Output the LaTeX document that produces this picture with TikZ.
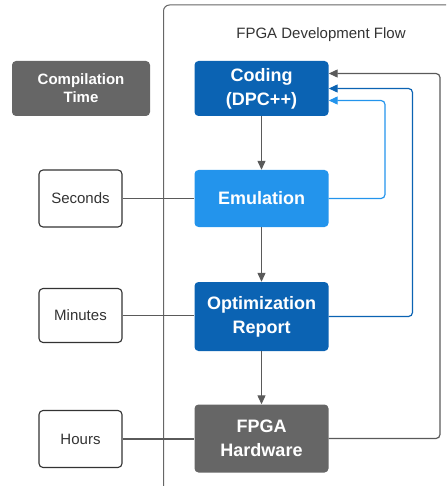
\documentclass[tikz,border=0pt]{standalone}
\usepackage{fontspec}
\setmainfont{Liberation Sans}
\usetikzlibrary{arrows.meta,calc}
\definecolor{darkblue}{HTML}{0B63B3}
\definecolor{lightblue}{HTML}{2394EC}
\definecolor{boxgray}{HTML}{666666}
\definecolor{linegray}{HTML}{5A5A5A}
\definecolor{textgray}{HTML}{333333}
\tikzset{
  flowbox/.style={rounded corners=4pt, minimum width=134pt, text=white,
    font=\fontsize{18}{24}\selectfont\bfseries, align=center, inner sep=0pt},
  timebox/.style={draw=textgray, line width=1.1pt, rounded corners=4pt, fill=white,
    minimum width=83pt, text=textgray, font=\fontsize{15}{18}\selectfont, inner sep=0pt},
  conn/.style={draw=linegray, line width=1.2pt},
  flowarrow/.style={conn, -{Triangle[length=9pt,width=8pt]}},
  back/.style={line width=1.2pt, rounded corners=4pt, -{Triangle[length=9pt,width=8pt]}}
}
\begin{document}
\begin{tikzpicture}[x=1pt,y=-1pt]
\useasboundingbox (0,0) rectangle (446,486);
\clip (0,0) rectangle (446,486);

% outer frame of the development flow
\draw[draw=boxgray, line width=1pt, rounded corners=6pt] (163.5,5) rectangle (470,510);
\node[text=textgray, font=\fontsize{15}{18}\selectfont] (title) at (321,35) {FPGA Development Flow};

% flow stages
\node[flowbox, fill=darkblue, minimum height=55pt] (coding) at (261.5,88.5) {Coding\\(DPC++)};
\node[flowbox, fill=lightblue, minimum height=57pt] (emul) at (261.5,198.5) {Emulation};
\node[flowbox, fill=darkblue, minimum height=69pt] (opt) at (261.5,316.5) {Optimization\\Report};
\node[flowbox, fill=boxgray, minimum height=68pt] (fpga) at (261.5,438.5) {FPGA\\Hardware};

% compilation time column
\node[rounded corners=4pt, fill=boxgray, minimum width=138pt, minimum height=55pt,
  text=white, font=\fontsize{15}{18}\selectfont\bfseries, align=center, inner sep=0pt]
  (comp) at (81,88.5) {Compilation\\Time};
\node[timebox, minimum height=57pt] (sec) at (80.5,198.5) {Seconds};
\node[timebox, minimum height=54pt] (min) at (80.5,315.5) {Minutes};
\node[timebox, minimum height=57pt] (hours) at (80.5,439) {Hours};

% time links
\draw[conn] (sec.east) -- (sec.east -| emul.west);
\draw[conn] (min.east) -- (min.east -| opt.west);
\draw[conn] (hours.east) -- (hours.east -| fpga.west);

% downward flow
\draw[flowarrow] (coding.south) -- (emul.north);
\draw[flowarrow] (emul.south) -- (opt.north);
\draw[flowarrow] (opt.south) -- (fpga.north);

% feedback loops
\coordinate (xl) at (385,0);
\coordinate (xm) at (412.5,0);
\coordinate (xr) at (440,0);
\draw[back, draw=lightblue, color=lightblue] (emul.east) -| ([yshift=-12pt]coding.east -| xl) -- ([yshift=-12pt]coding.east);
\draw[back, draw=darkblue, color=darkblue] (opt.east) -| (coding.east -| xm) -- (coding.east);
\draw[back, draw=linegray, color=linegray] (fpga.east) -| ([yshift=15pt]coding.east -| xr) -- ([yshift=15pt]coding.east);
\end{tikzpicture}
\end{document}
